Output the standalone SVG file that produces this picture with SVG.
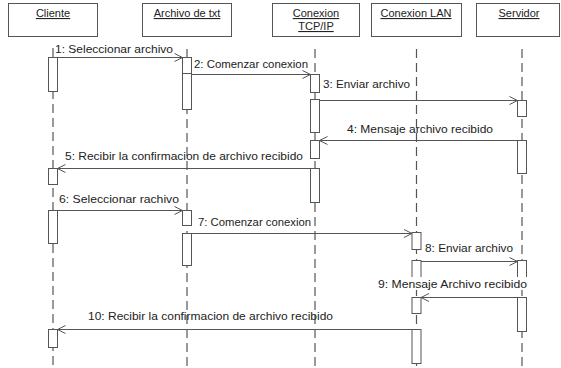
<svg xmlns="http://www.w3.org/2000/svg" width="561" height="368" viewBox="0 0 561 368">
  <style>
    .obj { fill: #fff; stroke: #555; stroke-width: 1; }
    .name { font-family: "Liberation Sans", Arial, sans-serif; font-size: 11px; fill: #222; text-anchor: middle; text-decoration: underline; }
    .life { stroke: #555; stroke-width: 1.2; stroke-dasharray: 9 5; fill: none; }
    .act { fill: #fff; stroke: #555; stroke-width: 1; }
    .msg { stroke: #555; stroke-width: 1; fill: none; marker-end: url(#open); }
    .lbl { font-family: "Liberation Sans", Arial, sans-serif; font-size: 11px; fill: #222; }
  </style>
  <defs>
    <marker id="open" markerWidth="10" markerHeight="10" refX="9" refY="5" orient="auto" markerUnits="userSpaceOnUse">
      <path d="M1,1 L9,5 L1,9" fill="none" stroke="#555" stroke-width="1"/>
    </marker>
  </defs>
  <rect width="561" height="368" fill="#fff"/>

  <!-- object heads and lifelines -->
  <g id="cliente">
    <rect class="obj" x="8.5" y="3.5" width="89" height="33"/>
    <text class="name" x="53" y="17">Cliente</text>
    <line class="life" x1="53" y1="48" x2="53" y2="368"/>
    <rect class="act" x="48.5" y="57.5" width="9" height="34"/>
    <rect class="act" x="48.5" y="168.5" width="9" height="16"/>
    <rect class="act" x="48.5" y="210.5" width="9" height="33"/>
    <rect class="act" x="48.5" y="329.5" width="9" height="18"/>
  </g>
  <g id="archivo">
    <rect class="obj" x="142.5" y="3.5" width="89" height="33"/>
    <text class="name" x="187" y="17">Archivo de txt</text>
    <line class="life" x1="187" y1="49" x2="187" y2="368"/>
    <rect class="act" x="182.5" y="57.5" width="9" height="16"/>
    <rect class="act" x="182.5" y="73.5" width="9" height="36"/>
    <rect class="act" x="182.5" y="210.5" width="9" height="15"/>
    <rect class="act" x="182.5" y="233.5" width="9" height="32"/>
  </g>
  <g id="tcpip">
    <rect class="obj" x="272.5" y="3.5" width="87" height="33"/>
    <text class="name" x="316" y="17">Conexion</text>
    <text class="name" x="316" y="30">TCP/IP</text>
    <line class="life" x1="315" y1="49" x2="315" y2="368"/>
    <rect class="act" x="310.5" y="74.5" width="9" height="18"/>
    <rect class="act" x="310.5" y="99.5" width="9" height="33"/>
    <rect class="act" x="310.5" y="140.5" width="9" height="18"/>
    <rect class="act" x="310.5" y="168.5" width="9" height="34"/>
  </g>
  <g id="lan">
    <rect class="obj" x="371.5" y="3.5" width="90" height="33"/>
    <text class="name" x="416" y="17">Conexion LAN</text>
    <line class="life" x1="416.5" y1="49" x2="416.5" y2="368"/>
    <rect class="act" x="412" y="232.5" width="9" height="17"/>
    <rect class="act" x="412" y="260.5" width="9" height="18"/>
    <rect class="act" x="412" y="297.5" width="9" height="16"/>
    <rect class="act" x="412" y="329.5" width="9" height="34"/>
  </g>
  <g id="servidor">
    <rect class="obj" x="476.5" y="3.5" width="83" height="33"/>
    <text class="name" x="519" y="17">Servidor</text>
    <line class="life" x1="522" y1="49" x2="522" y2="368"/>
    <rect class="act" x="517.5" y="100.5" width="9" height="16"/>
    <rect class="act" x="517.5" y="140.5" width="9" height="33"/>
    <rect class="act" x="517.5" y="260.5" width="9" height="18"/>
    <rect class="act" x="517.5" y="297.5" width="9" height="34"/>
  </g>

  <!-- messages -->
  <g id="connectors">
    <line class="msg" x1="57.5" y1="57.5" x2="182.5" y2="57.5"/>
    <line class="msg" x1="191.5" y1="74.5" x2="310.5" y2="74.5"/>
    <line class="msg" x1="319.5" y1="100.5" x2="517.5" y2="100.5"/>
    <line class="msg" x1="517.5" y1="140.5" x2="319.5" y2="140.5"/>
    <line class="msg" x1="310.5" y1="168.5" x2="57.5" y2="168.5"/>
    <line class="msg" x1="57.5" y1="210.5" x2="182.5" y2="210.5"/>
    <line class="msg" x1="191.5" y1="233.5" x2="412" y2="233.5"/>
    <line class="msg" x1="421" y1="261.5" x2="517.5" y2="261.5"/>
    <line class="msg" x1="517.5" y1="297.5" x2="421" y2="297.5"/>
    <line class="msg" x1="412" y1="329.5" x2="57.5" y2="329.5"/>

    <text class="lbl" x="55" y="53" textLength="118" lengthAdjust="spacingAndGlyphs">1: Seleccionar archivo</text>
    <text class="lbl" x="194" y="68" textLength="114" lengthAdjust="spacingAndGlyphs">2: Comenzar conexion</text>
    <text class="lbl" x="323" y="88" textLength="87" lengthAdjust="spacingAndGlyphs">3: Enviar archivo</text>
    <text class="lbl" x="347" y="133" textLength="146" lengthAdjust="spacingAndGlyphs">4: Mensaje archivo recibido</text>
    <text class="lbl" x="65" y="160" textLength="238" lengthAdjust="spacingAndGlyphs">5: Recibir la confirmacion de archivo recibido</text>
    <text class="lbl" x="59" y="203" textLength="120" lengthAdjust="spacingAndGlyphs">6: Seleccionar rachivo</text>
    <text class="lbl" x="198" y="226" textLength="113" lengthAdjust="spacingAndGlyphs">7: Comenzar conexion</text>
    <text class="lbl" x="425" y="252" textLength="88" lengthAdjust="spacingAndGlyphs">8: Enviar archivo</text>
    <rect x="377" y="277" width="151" height="13" fill="#fff"/>
    <text class="lbl" x="378" y="288" textLength="149" lengthAdjust="spacingAndGlyphs">9: Mensaje Archivo recibido</text>
    <text class="lbl" x="88" y="320" textLength="245" lengthAdjust="spacingAndGlyphs">10: Recibir la confirmacion de archivo recibido</text>
  </g>
</svg>
